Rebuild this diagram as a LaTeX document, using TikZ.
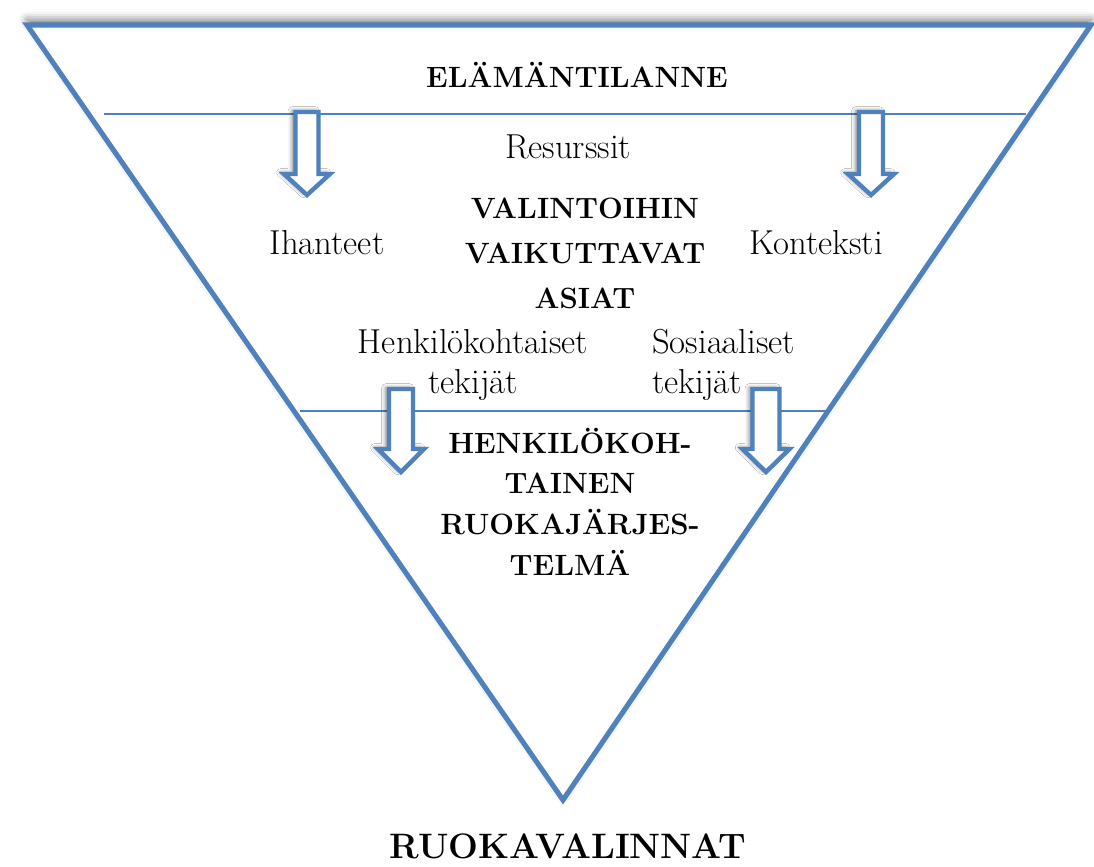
\documentclass[tikz,border=0pt]{standalone}
\usepackage{fontspec}
\usetikzlibrary{shadows.blur}
\definecolor{ofblue}{HTML}{4F81BD}
\tikzset{
  tri/.style={draw=ofblue, line width=3.8pt, fill=white, blur shadow={shadow xshift=0pt, shadow yshift=4pt, shadow blur radius=6pt, shadow opacity=55}},
  hline/.style={draw=ofblue, line width=1.2pt},
  blockarr/.style={draw=ofblue, line width=3.3pt, fill=white, blur shadow={shadow xshift=-2.5pt, shadow yshift=1pt, shadow blur radius=3pt, shadow opacity=50}},
  txt/.style={inner sep=0pt, font=\fontsize{26}{29.5}\selectfont, align=center},
  btxt/.style={inner sep=0pt, align=center, font=\fontsize{22}{30.5}\selectfont\bfseries},
}
\newcommand\dnarrow[6]{\path[blockarr] ({#1-#5},#2) -- ({#1+#5},#2) -- ({#1+#5},#3) -- ({#1+#6},#3) -- (#1,#4) -- ({#1-#6},#3) -- ({#1-#5},#3) -- cycle;}
\begin{document}
\begin{tikzpicture}[x=0.75pt,y=-0.75pt]
\useasboundingbox (0,0) rectangle (1094,866);
\path[tri] (27,25) -- (1091,25) -- (563,800) -- cycle;
\coordinate (l1a) at (104,114);
\coordinate (l1b) at (1026,114);
\coordinate (l2a) at (300,411);
\coordinate (l2b) at (830,411);
\draw[hline] (l1a) -- (l1b);
\draw[hline] (l2a) -- (l2b);
\dnarrow{307}{112}{174}{195}{11.5}{23}
\dnarrow{871}{112}{174}{195}{12}{23}
\dnarrow{401}{389}{449}{472}{12}{23}
\dnarrow{766}{389}{449}{472}{13.5}{23.5}
\node[btxt, anchor=base] (elama) at (577,88) {ELÄMÄNTILANNE};
\node[txt, anchor=base] (res) at (568,159) {Resurssit};
\node[btxt, anchor=base, font=\fontsize{22}{33.75}\selectfont\bfseries] (val) at (585,308) {VALINTOIHIN\\VAIKUTTAVAT\\ASIAT};
\node[txt, anchor=base] (ihan) at (327,254) {Ihanteet};
\node[txt, anchor=base] (kont) at (816,254) {Konteksti};
\node[txt, anchor=base] (henk) at (473,393) {Henkilökohtaiset\\tekijät};
\node[txt, anchor=base west, align=left] (sos) at (652,393) {Sosiaaliset\\tekijät};
\node[btxt, anchor=base] (hkr) at (570,575) {HENKILÖKOH-\\TAINEN\\RUOKAJÄRJES-\\TELMÄ};
\node[btxt, anchor=base, font=\fontsize{26.5}{32}\selectfont\bfseries] (ruoka) at (568,858) {RUOKAVALINNAT};
\end{tikzpicture}
\end{document}
